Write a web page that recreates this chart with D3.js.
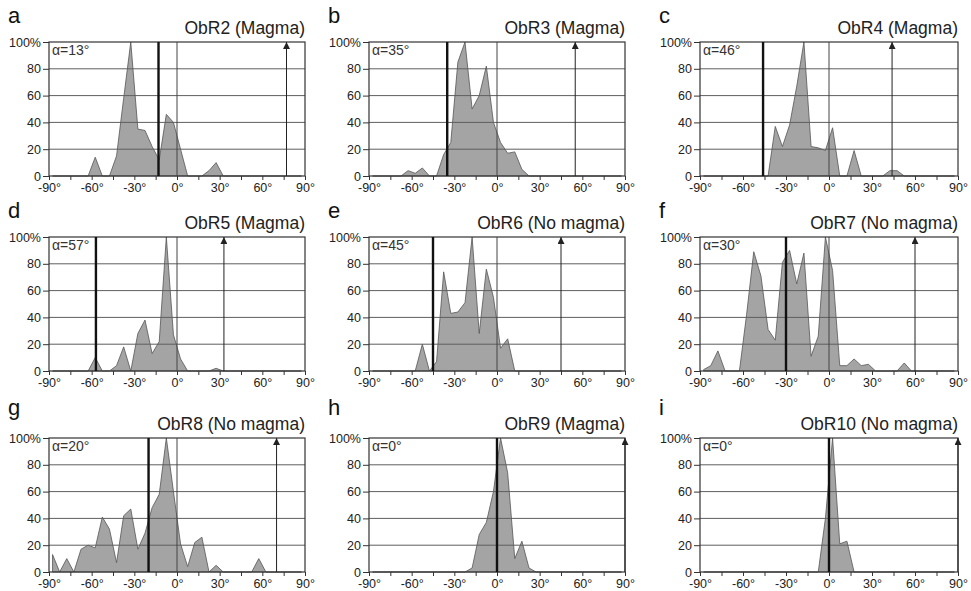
<!DOCTYPE html>
<html>
<head>
<meta charset="utf-8">
<script src="https://cdn.jsdelivr.net/npm/d3@7"></script>
<style>
body { margin: 0; background: #fff; }
text { font-family: "Liberation Sans", Arial, sans-serif; fill: #222; }
</style>
</head>
<body>
<script>
// bin centres (degrees) shared by every panel
var binCenters = [-87.5, -82.5, -77.5, -72.5, -67.5, -62.5, -57.5, -52.5, -47.5, -42.5,
    -37.5, -32.5, -27.5, -22.5, -17.5, -12.5, -7.5, -2.5, 2.5, 7.5,
    12.5, 17.5, 22.5, 27.5, 32.5, 37.5, 42.5, 47.5, 52.5, 57.5,
    62.5, 67.5, 72.5, 77.5, 82.5, 87.5];

var letters = ["a", "b", "c", "d", "e", "f", "g", "h", "i"];
var titles = ["ObR2 (Magma)", "ObR3 (Magma)", "ObR4 (Magma)",
    "ObR5 (Magma)", "ObR6 (No magma)", "ObR7 (No magma)",
    "ObR8 (No magma)", "ObR9 (Magma)", "ObR10 (No magma)"];
var alphas = [13, 35, 46, 57, 45, 30, 20, 0, 0];

var obr2 = [0,0,0,0,0, 0,14,0,0,15, 58,100,35,34,22, 12,46,40,20,0, 0,0,4,10,0, 0,0,0,0,0, 0,0,0,0,0, 0];
var obr3 = [0,0,0,0,0, 4,2,6,0,0, 16,25,85,100,50, 60,82,40,25,17, 18,5,0,0,0, 0,0,0,0,0, 0,0,0,0,0, 0];
var obr4 = [0,0,0,0,0, 0,0,0,0,0, 37,22,38,67,100, 22,21,19,36,0, 0,19,0,0,0, 0,4,4,0,0, 0,0,0,0,0, 0];
var obr5 = [0,0,0,0,0, 0,10,0,0,4, 18,0,28,38,13, 22,100,27,9,0, 0,0,0,2,0, 0,0,0,0,0, 0,0,0,0,0, 0];
var obr6 = [0,0,0,0,0, 0,0,20,0,7, 74,43,44,51,100, 28,76,55,17,24, 0,0,0,0,0, 0,0,0,0,0, 0,0,0,0,0, 0];
var obr7 = [1,4,15,0,0, 0,42,89,71,31, 23,81,90,65,88, 11,26,100,75,4, 4,9,4,5,0, 0,0,0,6,0, 0,0,0,0,0, 0];
var obr8 = [13,0,10,0,17, 20,18,41,32,7, 42,47,17,29,48, 58,100,60,21,4, 22,26,0,5,0, 0,0,0,0,10, 0,0,0,0,0, 0];
var obr9 = [0,0,0,0,0, 0,0,0,0,0, 0,0,0,0,3, 28,37,60,100,74, 10,23,3,0,0, 0,0,0,0,0, 0,0,0,0,0, 0];
var obr10 = [0,0,0,0,0, 0,0,0,0,0, 0,0,0,0,0, 0,0,40,100,21, 23,0,0,0,0, 0,0,0,0,0, 0,0,0,0,0, 0];
var series = [obr2, obr3, obr4, obr5, obr6, obr7, obr8, obr9, obr10];

var xTicks = [-90, -75, -60, -45, -30, -15, 0, 15, 30, 45, 60, 75, 90];
var yTicks = [0, 20, 40, 60, 80, 100];

var w = 971, h = 591;
var colLeft = [49, 369, 700];
var colWidth = [256, 256, 258];
var rowTop = [42, 237, 438];
var plotH = 134;

var svg = d3.select("body").append("svg")
    .attr("width", w)
    .attr("height", h);

var defs = svg.append("defs");
defs.append("marker")
    .attr("id", "arrowhead")
    .attr("viewBox", "0 0 10 10")
    .attr("refX", 10).attr("refY", 5)
    .attr("markerWidth", 7).attr("markerHeight", 7)
    .attr("markerUnits", "userSpaceOnUse")
    .attr("orient", "auto")
    .append("path")
    .attr("d", "M0,0 L10,5 L0,10 Z")
    .attr("fill", "#222");

series.forEach(function (vals, k) {
    var col = k % 3, row = Math.floor(k / 3);
    var left = colLeft[col], top = rowTop[row], pw = colWidth[col];

    var x = d3.scaleLinear().domain([-90, 90]).range([0, pw]);
    var y = d3.scaleLinear().domain([0, 100]).range([plotH, 0]);

    var g = svg.append("g").attr("transform", "translate(" + left + "," + top + ")");

    // panel letter and title
    svg.append("text")
        .attr("x", left - 41)
        .attr("y", row == 2 ? top - 23 : top - 19)
        .style("font-size", "22px")
        .style("fill", "#111")
        .text(letters[k]);
    g.append("text")
        .attr("x", pw)
        .attr("y", -8)
        .attr("text-anchor", "end")
        .style("font-size", "17.5px")
        .text(titles[k]);

    // distribution area
    var pts = binCenters.map(function (c, i) { return [c, vals[i]]; });
    var area = d3.area()
        .x(function (d) { return x(d[0]); })
        .y0(y(0))
        .y1(function (d) { return y(d[1]); });
    g.append("path")
        .datum(pts)
        .attr("d", area)
        .attr("fill", "#a4a4a4")
        .attr("stroke", "#555")
        .attr("stroke-width", 0.8);

    // horizontal gridlines
    g.selectAll(".grid")
        .data([20, 40, 60, 80])
        .enter().append("line")
        .attr("x1", 0).attr("x2", pw)
        .attr("y1", function (d) { return y(d); })
        .attr("y2", function (d) { return y(d); })
        .attr("stroke", "#5e5e5e")
        .attr("stroke-width", 1);

    // frame
    g.append("rect")
        .attr("width", pw).attr("height", plotH)
        .attr("fill", "none")
        .attr("stroke", "#333")
        .attr("stroke-width", 1.2);

    // axes
    var xAxis = d3.axisBottom(x)
        .tickValues(xTicks)
        .tickSize(4)
        .tickFormat(function (d) { return d % 30 === 0 ? d + "\u00b0" : ""; });
    var gx = g.append("g").attr("transform", "translate(0," + plotH + ")").call(xAxis);
    gx.select(".domain").remove();
    gx.selectAll(".tick line").attr("stroke", "#333");
    gx.selectAll(".tick text").style("font-size", "12.5px").style("font-family", null);

    var yAxis = d3.axisLeft(y)
        .tickValues(yTicks)
        .tickSize(6)
        .tickFormat(function (d) { return d === 100 ? "100%" : d; });
    var gy = g.append("g").call(yAxis);
    gy.select(".domain").remove();
    gy.selectAll(".tick line").attr("stroke", "#333");
    gy.selectAll(".tick text").attr("x", -8).style("font-size", "12.5px").style("font-family", null);

    // zero line
    g.append("line")
        .attr("x1", x(0)).attr("x2", x(0))
        .attr("y1", 0).attr("y2", plotH)
        .attr("stroke", "#444")
        .attr("stroke-width", 1);

    // line at -alpha
    g.append("line")
        .attr("x1", x(-alphas[k])).attr("x2", x(-alphas[k]))
        .attr("y1", 0).attr("y2", plotH)
        .attr("stroke", "#111")
        .attr("stroke-width", 2.4);

    // arrow at 90 - alpha
    g.append("line")
        .attr("x1", x(90 - alphas[k])).attr("x2", x(90 - alphas[k]))
        .attr("y1", plotH).attr("y2", 0)
        .attr("stroke", "#222")
        .attr("stroke-width", 1)
        .attr("marker-end", "url(#arrowhead)");

    // alpha label
    g.append("text")
        .attr("x", 3)
        .attr("y", 13)
        .style("font-size", "14px")
        .style("fill", "#333")
        .text("\u03b1=" + alphas[k] + "\u00b0");
});
</script>
</body>
</html>
